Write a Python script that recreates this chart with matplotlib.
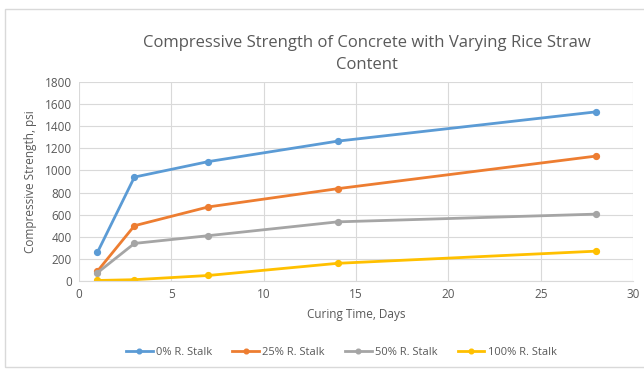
import matplotlib
matplotlib.use("Agg")
import matplotlib.pyplot as plt
from matplotlib.patches import Rectangle

plt.rcParams['font.family'] = ['Open Sans', 'DejaVu Sans']

days = [1, 3, 7, 14, 28]
stalk_0 = [260, 940, 1080, 1265, 1530]
stalk_25 = [90, 500, 670, 835, 1130]
stalk_50 = [75, 340, 410, 535, 605]
stalk_100 = [5, 12, 50, 160, 270]

series = [
    ("0% R. Stalk", stalk_0, "#5B9BD5"),
    ("25% R. Stalk", stalk_25, "#ED7D31"),
    ("50% R. Stalk", stalk_50, "#A5A5A5"),
    ("100% R. Stalk", stalk_100, "#FFC000"),
]

txt = "#595959"
fig = plt.figure(figsize=(6.44, 3.70), dpi=100)

# light chart border
fig.patches.append(Rectangle((5 / 644, 3 / 370), 1.0, 358 / 370, transform=fig.transFigure,
                             fill=False, edgecolor="#D9D9D9", lw=1.0))

ax = fig.add_axes([0.1227, 0.2405, 0.8603, 0.5379])

for name, vals, col in series:
    ax.plot(days, vals, color=col, lw=2.0, marker="o", ms=4.2, label=name)

ax.set_xlim(0, 30)
ax.set_ylim(0, 1800)
ax.set_xticks(range(0, 31, 5))
ax.set_yticks(range(0, 1801, 200))
ax.grid(True, color="#D9D9D9", lw=0.8)
ax.set_axisbelow(True)
for s in ["top", "right", "left"]:
    ax.spines[s].set_visible(False)
ax.spines["bottom"].set_color("#D9D9D9")
ax.tick_params(length=0, labelsize=8.5, colors=txt, pad=5)

ax.set_xlabel("Curing Time, Days", fontsize=8.5, color=txt, labelpad=5)
ax.set_ylabel("Compressive Strength, psi", fontsize=8.5, color=txt, labelpad=6)
fig.text(0.57, 0.855, "Compressive Strength of Concrete with Varying Rice Straw\nContent",
         ha="center", va="center", fontsize=12, color=txt, linespacing=1.5)

fig.legend(loc="center", bbox_to_anchor=(0.53, 0.048), ncol=4, frameon=False,
           fontsize=8, labelcolor=txt, handlelength=2.4, columnspacing=1.8,
           handletextpad=0.3, markerscale=0.8)

fig.savefig("out.png", dpi=100)
